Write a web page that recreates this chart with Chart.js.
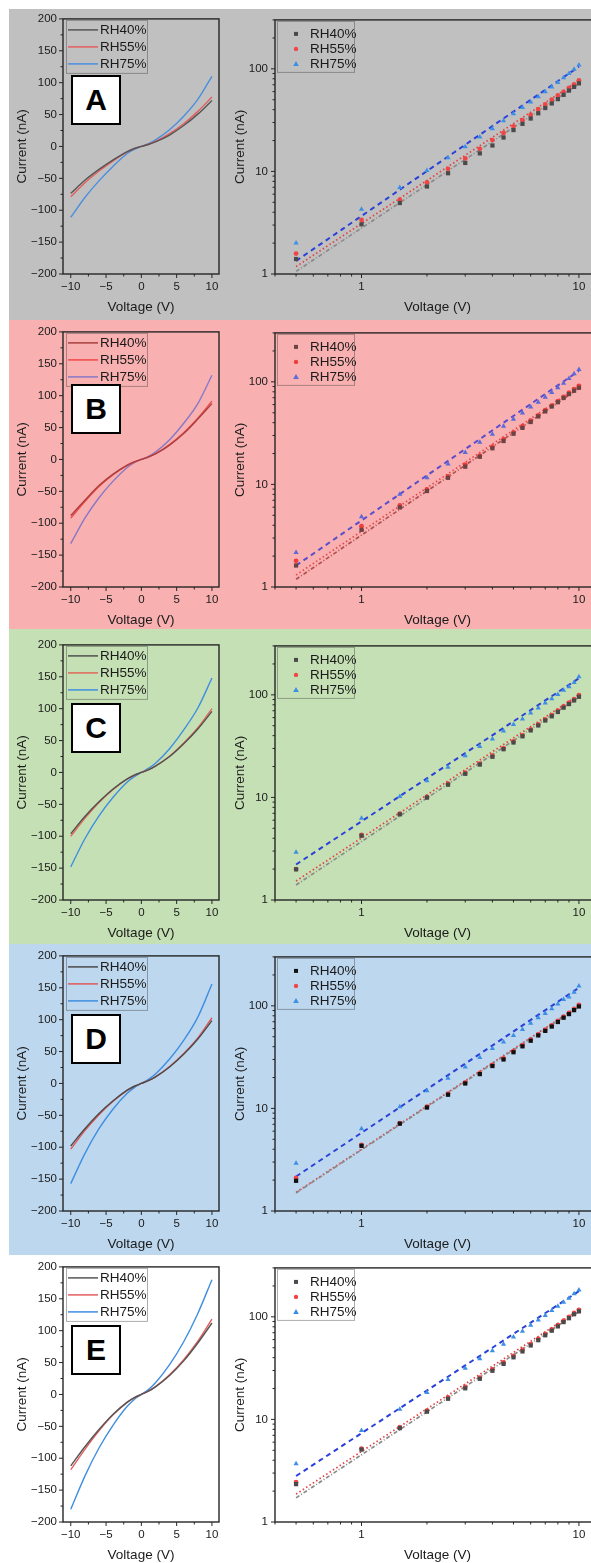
<!DOCTYPE html>
<html>
<head>
<meta charset="utf-8">
<script src="https://cdn.jsdelivr.net/npm/chart.js@4.4.1/dist/chart.umd.min.js"></script>
<style>
    html, body { margin: 0; padding: 0; width: 591px; height: 1563px; overflow: hidden; background: #fff; }
    .band { position: absolute; left: 9px; width: 582px; }
    canvas { position: absolute; }
    .tag {
        position: absolute; left: 71px; width: 50px; height: 50px; box-sizing: border-box;
        border: 2px solid #000; background: #fff; color: #000;
        font: bold 30px "Liberation Sans", Arial, sans-serif;
        display: flex; align-items: center; justify-content: center;
    }
</style>
</head>
<body>
<script>
const seriesNames = ['RH40%', 'RH55%', 'RH75%'];
const panelLetters = ['A', 'B', 'C', 'D', 'E'];

const ivVolts = [-10, -8, -6, -4, -2, -1, 0, 1, 2, 4, 6, 8, 10];
const logVolts = [0.5, 1, 1.5, 2, 2.5, 3, 3.5, 4, 4.5, 5, 5.5, 6, 6.5, 7, 7.5, 8, 8.5, 9, 9.5, 10];
const fitVolts = [0.5, 10];

const linXTicks = [-10, -5, 0, 5, 10];
const linXMinor = [-7.5, -2.5, 2.5, 7.5];
const linYTicks = [-200, -150, -100, -50, 0, 50, 100, 150, 200];
const linYMinor = [-175, -125, -75, -25, 25, 75, 125, 175];
const logXTicks = [1, 10];
const logXMinor = [0.4, 0.5, 0.6, 0.7, 0.8, 0.9, 2, 3, 4, 5, 6, 7, 8, 9];
const logYTicks = [1, 10, 100];
const logYMinor = [2, 3, 4, 5, 6, 7, 8, 9, 20, 30, 40, 50, 60, 70, 80, 90, 200, 300];

// I-V sweeps (left panels): RH40, RH55, RH75
const ivA = [
    [-73.5, -53, -36, -21, -8, -3.2, 0, 3.05, 7.1, 17.9, 32.8, 50.7, 72],
    [-79, -57, -38.5, -22.5, -8.5, -3.5, 0, 3.4, 7.8, 20.2, 35.5, 55, 77.5],
    [-111, -80, -54, -31, -11, -4.5, 0, 4.3, 10.2, 26.1, 47.4, 73.8, 110]
];
const ivB = [
    [-88, -64, -41, -23, -9, -3.7, 0, 3.6, 8.6, 22.5, 40.6, 63.3, 87.5],
    [-92, -66, -42.5, -24, -9.3, -4, 0, 3.9, 9.0, 23.4, 41.9, 64.7, 91.5],
    [-132, -92, -60, -34, -12.5, -5, 0, 4.9, 11.6, 30.9, 56.7, 87.5, 132]
];
const ivC = [
    [-96, -69, -46, -26, -10, -4.3, 0, 4.2, 10, 24.9, 45, 68.1, 95.7],
    [-100, -72, -47, -26.5, -10.3, -4.4, 0, 4.3, 10.1, 25.5, 46, 70, 100],
    [-148, -104, -68, -39, -15, -6.5, 0, 6.3, 14.5, 37.2, 66.6, 101, 148]
];
const ivD = [
    [-98, -71, -47, -27, -10.5, -4.4, 0, 4.3, 10.2, 25.9, 45.7, 69.6, 98.6],
    [-103, -74, -49, -28, -10.8, -4.5, 0, 4.4, 10.4, 26.5, 47, 71.5, 103],
    [-157, -110, -71, -40, -15.5, -6.5, 0, 6.4, 14.9, 38.3, 67.6, 104, 156]
];
const ivE = [
    [-112, -82, -55, -31, -12, -5, 0, 5.1, 11.9, 29.8, 52.6, 80.7, 112],
    [-118, -86, -57, -32, -12.4, -5.2, 0, 5.2, 12.2, 30.8, 54.5, 83.5, 118],
    [-180, -128, -84, -48, -18.5, -7.8, 0, 7.8, 18.3, 46.7, 82.6, 127, 180]
];

// log-log points (right panels)
const logA = [
    [1.40, 3.05, 4.92, 7.13, 9.6, 12.1, 15.0, 17.9, 21.4, 25.3, 29.1, 32.8, 36.9, 41.5, 46, 50.7, 55.8, 61.4, 66.7, 72.2],
    [1.58, 3.36, 5.3, 7.8, 10.6, 13.4, 16.6, 20.2, 23.7, 27.5, 31.6, 35.5, 40.4, 45, 50, 55, 59.7, 65.2, 70.6, 77.2],
    [2.0, 4.28, 6.97, 10.2, 13.6, 17.4, 21.6, 26.1, 31.2, 36.4, 41.9, 47.4, 53.4, 59.7, 66.7, 73.8, 81.9, 90.1, 99.3, 109]
];
const logB = [
    [1.62, 3.61, 5.97, 8.63, 11.6, 14.9, 18.6, 22.5, 26.5, 31.2, 35.6, 40.6, 46, 51.5, 57.5, 63.3, 69.6, 76, 81.9, 87.5],
    [1.80, 3.92, 6.24, 8.95, 12.0, 15.6, 19.1, 23.4, 27.7, 32.1, 36.9, 41.9, 47.1, 53, 58.7, 64.7, 71.2, 78.4, 85, 91.5],
    [2.17, 4.85, 8.0, 11.6, 15.8, 20.5, 25.7, 30.9, 36.9, 43.1, 49.6, 56.7, 63.3, 70.7, 78.9, 87.5, 97, 108, 120, 132]
];
const logC = [
    [1.99, 4.23, 6.84, 9.96, 13.3, 17.0, 20.9, 24.9, 29.5, 34.3, 39.4, 45, 50.3, 56.2, 61.8, 68.1, 75, 81.3, 88.2, 95.7],
    [2.0, 4.3, 6.95, 10.1, 13.6, 17.4, 21.4, 25.5, 30.2, 35.1, 40.3, 46, 51.5, 57.6, 63.5, 70, 77, 83.8, 91, 99.5],
    [2.92, 6.25, 10.2, 14.5, 19.7, 25.5, 31.3, 37.2, 44.4, 51.4, 58.3, 66.6, 74.4, 83.2, 91.6, 101, 111, 120, 132, 150]
];
const logD = [
    [1.97, 4.32, 7.1, 10.2, 13.6, 17.5, 21.6, 25.9, 30, 35.3, 40.3, 45.7, 51.5, 57, 62.8, 69.6, 76.6, 83.1, 90.8, 98.6],
    [2.1, 4.4, 7.2, 10.4, 13.9, 17.9, 22.1, 26.5, 30.8, 36.1, 41.3, 46.8, 52.8, 58.5, 64.4, 71.4, 78.6, 85.3, 93.2, 102],
    [2.92, 6.35, 10.4, 14.9, 19.7, 25.3, 31.3, 38.3, 44.4, 51.4, 58.7, 67.6, 76.6, 84.4, 93.5, 104, 115, 122, 136, 156]
];
const logE = [
    [2.34, 5.08, 8.22, 11.9, 15.9, 20.1, 24.9, 29.8, 34.8, 40.3, 46, 52.6, 59.2, 66.1, 73.3, 80.7, 88.9, 97, 106, 113],
    [2.45, 5.2, 8.4, 12.2, 16.4, 20.8, 25.6, 30.8, 35.9, 41.6, 47.5, 54.3, 61, 68.2, 75.6, 83.2, 91.6, 100, 109, 117],
    [3.7, 7.8, 12.6, 18.3, 24.5, 31.6, 39.1, 46.7, 54.2, 63.7, 72.2, 82.6, 92.9, 103, 115, 127, 139, 152, 168, 183]
];

// power-law fit end points at fitVolts
const fitA = [[1.06, 71], [1.18, 77], [1.34, 105]];
const fitB = [[1.19, 86], [1.31, 90], [1.62, 128]];
const fitC = [[1.40, 95], [1.53, 100], [2.22, 145]];
const fitD = [[1.50, 98], [1.52, 100], [2.17, 150]];
const fitE = [[1.72, 112], [1.87, 117], [2.81, 178]];

const FONT = '"Liberation Sans", Arial, sans-serif';
Chart.defaults.font.family = FONT;
Chart.defaults.color = '#1a1a1a';

const frameTicks = {
    id: 'frameTicks',
    afterDatasetsDraw(chart, args, o) {
        const {ctx, chartArea: a} = chart;
        const x = chart.scales.x, y = chart.scales.y;
        ctx.save();
        ctx.strokeStyle = '#262626';
        ctx.lineWidth = 1.4;
        ctx.strokeRect(a.left, a.top, a.right - a.left, a.bottom - a.top);
        ctx.lineWidth = 1;
        ctx.beginPath();
        const xMark = (v, len) => {
            const p = x.getPixelForValue(v);
            ctx.moveTo(p, a.bottom); ctx.lineTo(p, a.bottom + len);
        };
        const yMark = (v, len) => {
            const p = y.getPixelForValue(v);
            ctx.moveTo(a.left, p); ctx.lineTo(a.left - len, p);
        };
        o.xMajor.forEach(v => xMark(v, 4));
        o.xMinor.forEach(v => xMark(v, 2.5));
        o.yMajor.forEach(v => yMark(v, 4));
        o.yMinor.forEach(v => yMark(v, 2.5));
        ctx.stroke();
        ctx.restore();
    }
};

function drawMarker(ctx, style, x, y, color) {
    ctx.fillStyle = color;
    ctx.beginPath();
    if (style === 'rect') {
        ctx.rect(x - 2, y - 2, 4, 4);
    } else if (style === 'triangle') {
        ctx.moveTo(x, y - 3); ctx.lineTo(x + 2.8, y + 2); ctx.lineTo(x - 2.8, y + 2); ctx.closePath();
    } else {
        ctx.arc(x, y, 2.2, 0, Math.PI * 2);
    }
    ctx.fill();
}

const insetLegend = {
    id: 'insetLegend',
    afterDraw(chart, args, o) {
        const {ctx, chartArea: a} = chart;
        const bx = a.left + o.dx, by = a.top + o.dy;
        ctx.save();
        ctx.strokeStyle = o.border;
        ctx.lineWidth = 1;
        ctx.strokeRect(bx + 0.5, by + 0.5, o.w, o.h);
        ctx.font = '13.5px ' + FONT;
        ctx.textBaseline = 'middle';
        chart.data.datasets.slice(0, 3).forEach((ds, i) => {
            const cy = by + o.first + i * o.gap;
            if (o.kind === 'line') {
                ctx.strokeStyle = ds.borderColor;
                ctx.lineWidth = 1.5;
                ctx.beginPath(); ctx.moveTo(bx + 2, cy); ctx.lineTo(bx + 32, cy); ctx.stroke();
            } else {
                drawMarker(ctx, ds.pointStyle, bx + 19, cy, ds.backgroundColor);
            }
            ctx.fillStyle = '#1a1a1a';
            ctx.fillText(ds.label, bx + o.textX, cy);
        });
        ctx.restore();
    }
};

function axis(o) {
    return {
        type: o.type, min: o.min, max: o.max, bounds: 'data',
        grid: {display: false, drawTicks: false},
        border: {display: false},
        afterBuildTicks: s => { s.ticks = o.ticks.map(v => ({value: v})); },
        afterFit: s => {
            if (o.width) s.width = o.width;
            if (o.height) s.height = o.height;
        },
        ticks: {
            padding: o.pad, autoSkip: false, maxRotation: 0, color: '#1a1a1a', font: {size: 11.5},
            callback: v => String(v).replace('-', '\u2212')
        },
        title: {display: true, text: o.title, color: '#1a1a1a', font: {size: 13.5}, padding: o.titlePad}
    };
}

class Panel {
    constructor(idx, iv, log, fit, style) {
        this.plotTop = [16, 329, 642, 953, 1264][idx];
        this.iv = iv;
        this.log = log;
        this.fit = fit;
        this.style = style;
        this.addBand(idx);
        this.drawIv();
        this.drawLog();
        this.addTag(idx);
    }
    addBand(idx) {
        const tops = [9, 320, 629, 944, 1255];
        const bottoms = [320, 629, 944, 1255, 1563];
        const band = document.createElement('div');
        band.className = 'band';
        band.style.top = tops[idx] + 'px';
        band.style.height = (bottoms[idx] - tops[idx]) + 'px';
        band.style.background = this.style.band;
        document.body.appendChild(band);
    }
    addCanvas(left, w, h) {
        const c = document.createElement('canvas');
        c.width = w; c.height = h;
        c.style.left = left + 'px';
        c.style.top = (this.plotTop - 10) + 'px';
        c.style.width = w + 'px'; c.style.height = h + 'px';
        document.body.appendChild(c);
        return c;
    }
    addTag(idx) {
        const tag = document.createElement('div');
        tag.className = 'tag';
        tag.textContent = panelLetters[idx];
        tag.style.top = (this.plotTop + [59, 55, 61, 61, 61][idx]) + 'px';
        document.body.appendChild(tag);
    }
    drawIv() {
        const datasets = this.iv.map((vals, i) => ({
            label: seriesNames[i],
            data: ivVolts.map((v, k) => ({x: v, y: vals[k]})),
            borderColor: this.style.line[i],
            borderWidth: 1.4,
            pointRadius: 0,
            cubicInterpolationMode: 'monotone'
        }));
        new Chart(this.addCanvas(10, 221, 316), {
            type: 'line',
            data: {datasets},
            options: {
                responsive: false, animation: false,
                layout: {padding: {top: 10, right: 12, bottom: 0, left: 0}},
                plugins: {
                    legend: {display: false}, tooltip: {enabled: false},
                    frameTicks: {xMajor: linXTicks, xMinor: linXMinor, yMajor: linYTicks, yMinor: linYMinor},
                    insetLegend: {kind: 'line', dx: 3, dy: 1, w: 81, h: 53, first: 10, gap: 17, textX: 34, border: 'rgba(70,70,70,0.45)'}
                },
                scales: {
                    x: axis({type: 'linear', min: -11.1, max: 11, ticks: linXTicks, pad: 6, height: 48,
                        title: 'Voltage (V)', titlePad: {top: 0, bottom: 7}}),
                    y: axis({type: 'linear', min: -200, max: 200, ticks: linYTicks, pad: 6, width: 53,
                        title: 'Current (nA)', titlePad: {top: 4, bottom: 0}})
                }
            },
            plugins: [frameTicks, insetLegend]
        });
    }
    drawLog() {
        const shapes = ['rect', 'circle', 'triangle'];
        const dashes = [[4, 2, 1, 2], [1.5, 2.5], [5, 4]];
        const points = this.log.map((vals, i) => ({
            label: seriesNames[i],
            data: logVolts.map((v, k) => ({x: v, y: vals[k]})),
            pointStyle: shapes[i],
            pointRadius: i === 1 ? 2.4 : 3,
            borderWidth: 0,
            backgroundColor: this.style.marker[i],
            borderColor: this.style.marker[i]
        }));
        const fits = this.fit.map((vals, i) => ({
            label: seriesNames[i] + ' fit',
            data: fitVolts.map((v, k) => ({x: v, y: vals[k]})),
            showLine: true,
            pointRadius: 0,
            borderColor: this.style.fit[i],
            borderWidth: i === 2 ? 2 : 1.7,
            borderDash: dashes[i]
        }));
        new Chart(this.addCanvas(225, 385, 316), {
            type: 'scatter',
            data: {datasets: points.concat(fits)},
            options: {
                responsive: false, animation: false,
                layout: {padding: {top: 10, right: 10, bottom: 0, left: 0}},
                plugins: {
                    legend: {display: false}, tooltip: {enabled: false},
                    frameTicks: {xMajor: logXTicks, xMinor: logXMinor, yMajor: logYTicks, yMinor: logYMinor},
                    insetLegend: {kind: 'point', dx: 2, dy: 1, w: 77, h: 51, first: 13, gap: 15, textX: 33, border: 'rgba(70,70,70,0.45)'}
                },
                scales: {
                    x: axis({type: 'logarithmic', min: 0.4, max: 12.5, ticks: logXTicks, pad: 6, height: 48,
                        title: 'Voltage (V)', titlePad: {top: 0, bottom: 7}}),
                    y: axis({type: 'logarithmic', min: 1, max: 300, ticks: logYTicks, pad: 7, width: 50,
                        title: 'Current (nA)', titlePad: {top: 7, bottom: 0}})
                }
            },
            plugins: [frameTicks, insetLegend]
        });
    }
}

const greyStyle = {
    band: '#c0c0c0',
    line: ['#555555', '#e35d5d', '#4a8ee0'],
    marker: ['#4a4a4a', '#ef4545', '#3d8fe6'],
    fit: ['#8a8a8a', '#e34040', '#2a40d8']
};
const pinkStyle = {
    band: '#f8b0b0',
    line: ['#a8403f', '#f24848', '#8878c6'],
    marker: ['#6a4444', '#f03c3c', '#5a6ad8'],
    fit: ['#b05050', '#e84848', '#5a4ccc']
};
const greenStyle = {
    band: '#c5e0b4',
    line: ['#4f4f4f', '#e0695a', '#3f8ee0'],
    marker: ['#4a4a4a', '#ef4545', '#3d8fe6'],
    fit: ['#8a8a8a', '#e34040', '#2a40d8']
};
const blueStyle = {
    band: '#bdd7ee',
    line: ['#4a4a4a', '#e05858', '#3f8ee0'],
    marker: ['#111111', '#ef4545', '#3d8fe6'],
    fit: ['#8a8a8a', '#e34040', '#2a40d8']
};
const whiteStyle = {
    band: '#ffffff',
    line: ['#555555', '#e35d5d', '#3f8ee0'],
    marker: ['#4a4a4a', '#ef4545', '#3d8fe6'],
    fit: ['#8a8a8a', '#e34040', '#2a40d8']
};

window.addEventListener('load', () => {
    new Panel(0, ivA, logA, fitA, greyStyle);
    new Panel(1, ivB, logB, fitB, pinkStyle);
    new Panel(2, ivC, logC, fitC, greenStyle);
    new Panel(3, ivD, logD, fitD, blueStyle);
    new Panel(4, ivE, logE, fitE, whiteStyle);
});
</script>
</body>
</html>
